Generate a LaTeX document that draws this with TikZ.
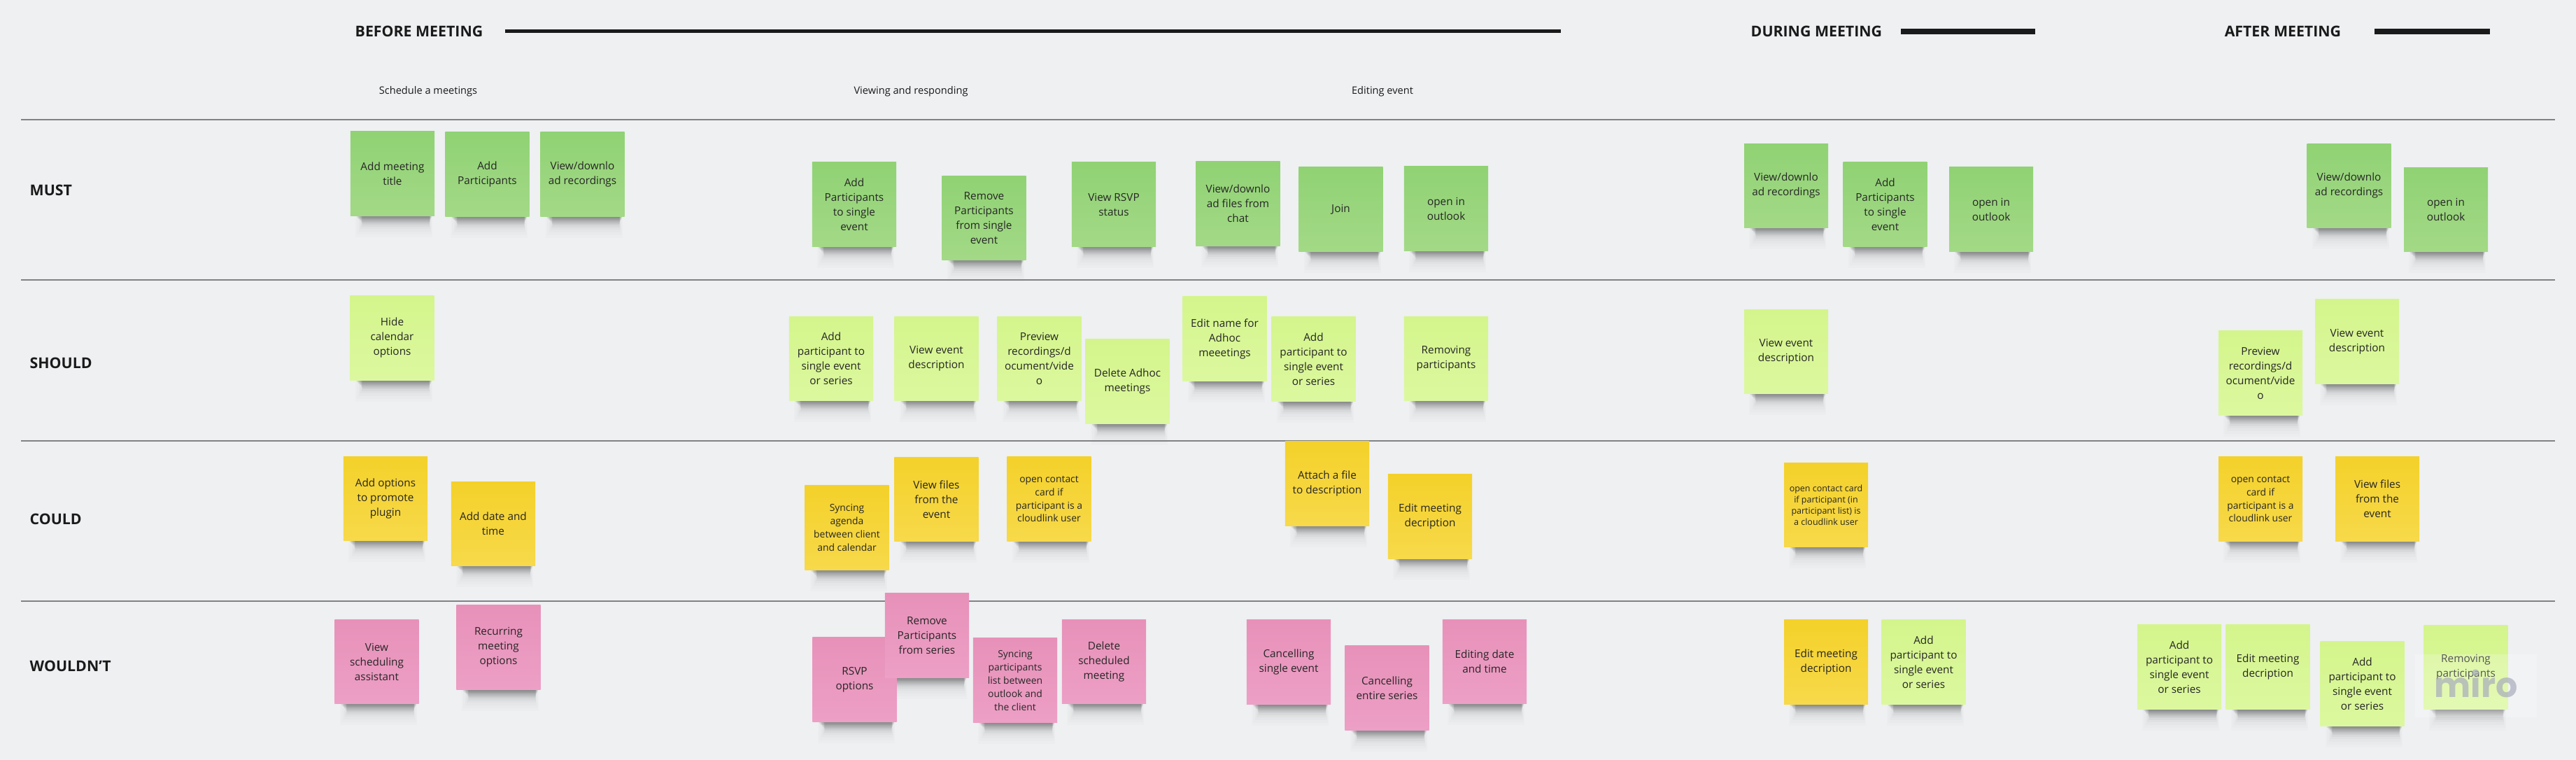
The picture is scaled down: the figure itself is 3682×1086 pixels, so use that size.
\documentclass[tikz,border=0pt]{standalone}
\usepackage{fontspec}
\setmainfont{Open Sans}
\newfontfamily\wmfont{Poppins}
\usetikzlibrary{calc}
\usetikzlibrary{backgrounds}
\definecolor{boardbg}{HTML}{EEF0F2}
\definecolor{rowgrey}{HTML}{808285}
\definecolor{barblack}{HTML}{1A1A1A}
\definecolor{greentop}{HTML}{90D274}
\definecolor{greenbot}{HTML}{A3D986}
\definecolor{limetop}{HTML}{D4F58C}
\definecolor{limebot}{HTML}{DCF89F}
\definecolor{yellowtop}{HTML}{F4D12A}
\definecolor{yellowbot}{HTML}{F7D94A}
\definecolor{pinktop}{HTML}{E791B9}
\definecolor{pinkbot}{HTML}{ED9FC5}
\definecolor{wmgrey}{HTML}{A9ACBC}

\begin{document}
\begin{tikzpicture}[x=0.01cm, y=-0.01cm,
            sticky/.style={minimum width=1.2cm, minimum height=1.2cm, inner sep=0pt,
            align=center, text=black!85, font=\fontsize{4.36}{5.97}\selectfont,
            execute at end node={\\[-4.17pt]\mbox{}}},
            must/.style={sticky, top color=greentop, bottom color=greenbot},
            should/.style={sticky, top color=limetop, bottom color=limebot},
            could/.style={sticky, top color=yellowtop, bottom color=yellowbot},
            wouldnt/.style={sticky, top color=pinktop, bottom color=pinkbot},
            midtext/.style={font=\fontsize{3.95}{5.4}\selectfont},
            tinytext/.style={font=\fontsize{3.55}{4.55}\selectfont},
            phase/.style={anchor=west, text=barblack, inner sep=0pt, font=\bfseries\fontsize{6.06}{8}\selectfont},
            subhead/.style={text=barblack, inner sep=0pt, font=\fontsize{4.15}{5}\selectfont},
            bar/.style={draw=barblack, line width=2.27pt},
            rowline/.style={draw=rowgrey, line width=0.5pt}]
            \useasboundingbox (0,0) rectangle (3682,1086);
            %% Row lines
            \foreach \yy in {171,400,630,859}
                \draw[rowline] (30,\yy) -- (3652,\yy);
            %% Phases
            \node[phase] (before) at (507,45) {BEFORE MEETING};
            \node[phase] (during) at (2502,45) {DURING MEETING};
            \node[phase] (after) at (3179,45) {AFTER MEETING};
            \coordinate (beforeA) at (722,45);
            \coordinate (beforeB) at (2231,45);
            \coordinate (duringA) at (2717,45);
            \coordinate (duringB) at (2909,45);
            \coordinate (afterA) at (3394,45);
            \coordinate (afterB) at (3559,45);
            \draw[bar, line width=1.42pt] (beforeA) -- (beforeB);
            \draw[bar] (duringA) -- (duringB);
            \draw[bar] (afterA) -- (afterB);
            \node[subhead] (schedule) at (612,131) {Schedule a meetings};
            \node[subhead] (viewing) at (1302,131) {Viewing and responding};
            \node[subhead] (editing) at (1976,131) {Editing event};
            %% Row labels
            \node[phase] (lmust) at (42,272) {MUST};
            \node[phase] (lshould) at (42,519) {SHOULD};
            \node[phase] (lcould) at (42,742) {COULD};
            \node[phase] (lwouldnt) at (42,952) {WOULDN'T};
            %% Must
            \node[must] (mustA) at (561,248) {Add meeting\\title};
            \node[must] (mustB) at (696.5,249) {Add\\Participants};
            \node[must] (mustC) at (832.5,249) {View/downlo\\ad recordings};
            \node[must] (mustD) at (1221,292) {Add\\Participants\\to single\\event};
            \node[must] (mustE) at (1406.5,311.5) {Remove\\Participants\\from single\\event};
            \node[must] (mustF) at (1592,292) {View RSVP\\status};
            \node[must] (mustG) at (1769.5,291) {View/downlo\\ad files from\\chat};
            \node[must] (mustH) at (1916.5,299) {Join};
            \node[must] (mustI) at (2067,298) {open in\\outlook};
            \node[must] (mustJ) at (2553,265.5) {View/downlo\\ad recordings};
            \node[must] (mustK) at (2694.5,292) {Add\\Participants\\to single\\event};
            \node[must] (mustL) at (2846,299) {open in\\outlook};
            \node[must] (mustM) at (3357.5,265.5) {View/downlo\\ad recordings};
            \node[must] (mustN) at (3496,299.5) {open in\\outlook};
            %% Should
            \node[should] (shouldA) at (560.5,483) {Hide\\calendar\\options};
            \node[should] (shouldB) at (1188,512.5) {Add\\participant to\\single event\\or series};
            \node[should] (shouldC) at (1338.5,512.5) {View event\\description};
            \node[should] (shouldD) at (1485.5,512.5) {Preview\\recordings/d\\ocument/vide\\o};
            \node[should] (shouldE) at (1611.5,545) {Delete Adhoc\\meetings};
            \node[should] (shouldF) at (1750.5,484) {Edit name for\\Adhoc\\meeetings};
            \node[should] (shouldG) at (1877.5,513) {Add\\participant to\\single event\\or series};
            \node[should] (shouldH) at (2067,512.5) {Removing\\participants};
            \node[should] (shouldI) at (2553,502.5) {View event\\description};
            \node[should] (shouldJ) at (3231,533) {Preview\\recordings/d\\ocument/vide\\o};
            \node[should] (shouldK) at (3369,488) {View event\\description};
            %% Could
            \node[could] (couldA) at (551,712.5) {Add options\\to promote\\plugin};
            \node[could] (couldB) at (705,748.5) {Add date and\\time};
            \node[could, midtext] (couldC) at (1210.5,754) {Syncing\\agenda\\between client\\and calendar};
            \node[could] (couldD) at (1338.5,713.5) {View files\\from the\\event};
            \node[could, midtext] (couldE) at (1499.5,713) {open contact\\card if\\participant is a\\cloudlink user};
            \node[could] (couldF) at (1897,691) {Attach a file\\to description};
            \node[could] (couldG) at (2044,738) {Edit meeting\\decription};
            \node[could, tinytext] (couldH) at (2610,721.5) {open contact card\\if participant (in\\participant list) is\\a cloudlink user};
            \node[could, midtext] (couldI) at (3231,713) {open contact\\card if\\participant is a\\cloudlink user};
            \node[could] (couldJ) at (3398,713) {View files\\from the\\event};
            %% Wouldn't
            \node[wouldnt] (wouldA) at (538.5,945.5) {View\\scheduling\\assistant};
            \node[wouldnt] (wouldB) at (712.5,925) {Recurring\\meeting\\options};
            \node[wouldnt] (wouldC) at (1221.5,971) {RSVP\\options};
            \node[wouldnt] (wouldD) at (1325,908) {Remove\\Participants\\from series};
            \node[wouldnt, midtext] (wouldE) at (1451,972) {Syncing\\participants\\list between\\outlook and\\the client};
            \node[wouldnt] (wouldF) at (1578,945.5) {Delete\\scheduled\\meeting};
            \node[wouldnt] (wouldG) at (1842,946) {Cancelling\\single event};
            \node[wouldnt] (wouldH) at (1982.5,983) {Cancelling\\entire series};
            \node[wouldnt] (wouldI) at (2122,945.5) {Editing date\\and time};
            \node[could] (wouldJ) at (2610,946) {Edit meeting\\decription};
            \node[should] (wouldK) at (2749.5,946) {Add\\participant to\\single event\\or series};
            \node[should] (wouldL) at (3115,953) {Add\\participant to\\single event\\or series};
            \node[should] (wouldM) at (3241.5,953) {Edit meeting\\decription};
            \node[should] (wouldN) at (3376.5,977) {Add\\participant to\\single event\\or series};
            \node[should] (wouldO) at (3524.5,953.5) {Removing\\participants};
            %% Watermark
            \node[fill=white, fill opacity=.22, text opacity=.7, text=wmgrey, inner sep=0pt,
                  minimum width=1.74cm, minimum height=0.9cm,
                  font=\wmfont\bfseries\fontsize{14}{16}\selectfont] (miro) at (3539,980) {\raisebox{2pt}{miro}};
            %% Board and shadows
            \begin{scope}[on background layer]
                \fill[boardbg] (0,0) rectangle (3682,1086);
                \foreach \n in {mustA,mustB,mustC,mustD,mustE,mustF,mustG,mustH,mustI,mustJ,mustK,mustL,mustM,mustN,
                                shouldA,shouldB,shouldC,shouldD,shouldE,shouldF,shouldG,shouldH,shouldI,shouldJ,shouldK,
                                couldA,couldB,couldC,couldD,couldE,couldF,couldG,couldH,couldI,couldJ,
                                wouldA,wouldB,wouldC,wouldD,wouldE,wouldF,wouldG,wouldH,wouldI,wouldJ,wouldK,wouldL,wouldM,wouldN,wouldO}
                    \foreach \d/\l/\o in {2/10/.08, 4/12/.09, 6/14/.08, 8/16/.06, 10/17/.05, 12/18/.04, 15/17/.03, 18/15/.02, 22/13/.015, 26/10/.012, 30/8/.01}
                        \fill[black, opacity=\o] ($(\n.south west)+(\l,0)$) rectangle ($(\n.south east)+(-0.45*\l,\d)$);
            \end{scope}
        \end{tikzpicture}
\end{document}
